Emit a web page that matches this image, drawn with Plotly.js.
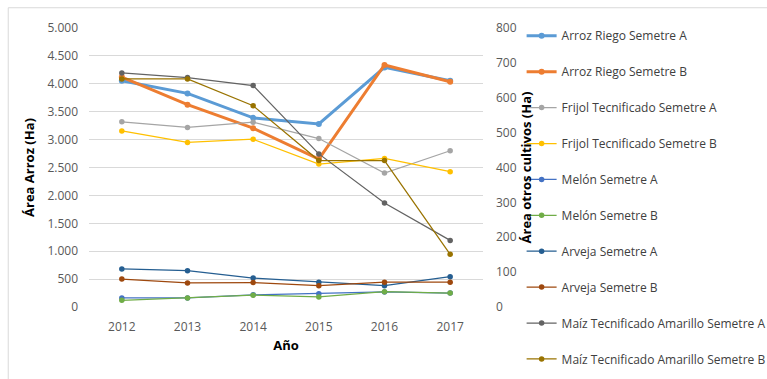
<!DOCTYPE html>
<html>
<head>
<meta charset="utf-8">
<script src="https://cdn.plot.ly/plotly-3.0.1.min.js"></script>
<style>html,body{margin:0;padding:0;background:#fff;}#chart{width:767px;height:379px;}</style>
</head>
<body>
<div id="chart"></div>
<script>
const years = ['2012', '2013', '2014', '2015', '2016', '2017'];

// Primary axis (Área Arroz, Ha)
const arrozRiegoA = [4055, 3828, 3390, 3280, 4294, 4055];
const arrozRiegoB = [4120, 3625, 3205, 2652, 4337, 4037];

// Secondary axis (Área otros cultivos, Ha)
const frijolA = [531, 515, 530, 483, 384, 448];
const frijolB = [505, 472, 481, 410, 426, 388];
const melonA = [26, 26, 35, 38, 43, 40];
const melonB = [19, 26, 34, 29, 44, 40];
const arvejaA = [109, 104, 83, 71, 61, 87];
const arvejaB = [80, 69, 70, 61, 71, 71];
const maizA = [671, 658, 635, 439, 298, 191];
const maizB = [654, 654, 577, 420, 420, 151];

const names = ['Arroz Riego Semetre A', 'Arroz Riego Semetre B', 'Frijol Tecnificado Semetre A',
  'Frijol Tecnificado Semetre B', 'Melón Semetre A', 'Melón Semetre B', 'Arveja Semetre A',
  'Arveja Semetre B', 'Maíz Tecnificado Amarillo Semetre A', 'Maíz Tecnificado Amarillo Semetre B'];
const colors = ['#5B9BD5', '#ED7D31', '#A5A5A5', '#FFC000', '#4472C4', '#70AD47', '#255E91', '#9E480E', '#636363', '#997300'];
const seriesList = [arrozRiegoA, arrozRiegoB, frijolA, frijolB, melonA, melonB, arvejaA, arvejaB, maizA, maizB];

const traces = seriesList.map((vals, i) => {
  const primary = i < 2;
  return {
    type: 'scatter', mode: 'lines+markers',
    x: years, y: vals, name: names[i],
    yaxis: primary ? 'y' : 'y2',
    legendgroup: 'g' + i,
    line: {color: colors[i], width: primary ? 3 : 1.25},
    marker: {color: colors[i], size: primary ? 6 : 5.5}
  };
});

const tickFont = {family: 'Open Sans, sans-serif', size: 12, color: '#595959'};
const titleFont = {family: 'Open Sans, sans-serif', size: 13, color: '#000', weight: 'bold'};

const layout = {
  width: 767, height: 379,
  margin: {l: 89, r: 284, t: 28, b: 72, autoexpand: false},
  paper_bgcolor: '#fff', plot_bgcolor: '#fff',
  separators: ',.',
  showlegend: true,
  xaxis: {
    type: 'category', range: [-0.5, 5.5],
    showgrid: false, zeroline: false, showline: false, ticks: '',
    tickfont: tickFont, ticklabelstandoff: 11,
    title: {text: 'Año', font: titleFont, standoff: 6},
    automargin: false
  },
  yaxis: {
    range: [0, 5000], dtick: 500, tickformat: ',.0f',
    showgrid: true, gridcolor: '#D9D9D9', gridwidth: 1,
    zeroline: false, showline: false, ticks: '',
    tickfont: tickFont, ticklabelstandoff: 10,
    title: {text: 'Área Arroz (Ha)', font: titleFont, standoff: 9},
    automargin: false
  },
  yaxis2: {
    overlaying: 'y', side: 'right',
    range: [0, 800], dtick: 100,
    showgrid: false, zeroline: false, showline: false, ticks: '',
    tickfont: tickFont, ticklabelstandoff: 12,
    title: {text: 'Área otros cultivos (Ha)', font: titleFont, standoff: 4},
    automargin: false
  },
  legend: {
    x: 1.098, xanchor: 'left', y: 1.024, yanchor: 'top',
    maxheight: 400,
    font: {family: 'Open Sans, sans-serif', size: 12, color: '#404040'},
    traceorder: 'grouped', tracegroupgap: 16.9,
    bgcolor: 'rgba(0,0,0,0)', borderwidth: 0
  },
  shapes: [{
    type: 'rect', xref: 'paper', yref: 'paper',
    x0: -0.205, x1: 2.5, y0: -0.5, y1: 1.0726,
    line: {color: '#D9D9D9', width: 1}, fillcolor: 'rgba(0,0,0,0)', layer: 'below'
  }]
};

Plotly.newPlot('chart', traces, layout, {displayModeBar: false, staticPlot: true});
</script>
</body>
</html>
